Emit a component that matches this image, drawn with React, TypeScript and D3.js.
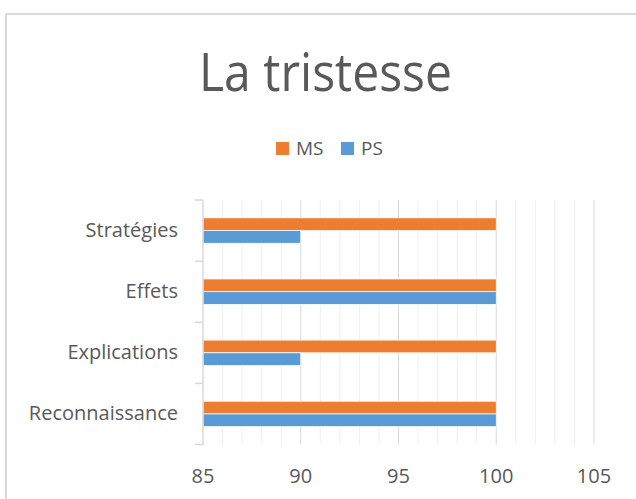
import React, { useEffect, useRef } from 'react';
import * as d3 from 'd3';

const categories = ['Reconnaissance', 'Explications', 'Effets', 'Stratégies'];
const seriesNames = ['MS', 'PS'];
const msValues = [100, 100, 100, 100];
const psValues = [100, 90, 100, 90];
const xTicks = [85, 90, 95, 100, 105];
const colors = ['#ED7D31', '#5B9BD5'];

const App = () => {
  const ref = useRef<SVGSVGElement>(null);

  useEffect(() => {
    const width = 636;
    const height = 499;
    const svg = d3.select(ref.current);
    svg.selectAll('*').remove();
    const font = '"Open Sans", "Noto Sans", sans-serif';
    const textColor = '#595959';

    // chart frame
    svg.append('rect')
      .attr('x', 6).attr('y', 14)
      .attr('width', 700).attr('height', 600)
      .attr('fill', '#fff')
      .attr('stroke', '#d9d9d9')
      .attr('stroke-width', 2);

    // title
    svg.append('text')
      .text('La tristesse')
      .attr('x', 199).attr('y', 91)
      .attr('font-family', font)
      .attr('font-size', 53)
      .attr('textLength', 253)
      .attr('lengthAdjust', 'spacingAndGlyphs')
      .attr('fill', textColor);

    // legend
    const legendX = [276, 341];
    const legend = svg.append('g');
    seriesNames.forEach((name, i) => {
      legend.append('rect')
        .attr('x', legendX[i]).attr('y', 142)
        .attr('width', 13).attr('height', 13)
        .attr('fill', colors[i]);
      legend.append('text')
        .text(name)
        .attr('x', legendX[i] + 20).attr('y', 155)
        .attr('font-family', font)
        .attr('font-size', 19)
        .attr('fill', textColor);
    });

    const left = 203, right = 594, top = 200, bottom = 444.5;
    const x = d3.scaleLinear().domain([85, 105]).range([left, right]);
    const y = d3.scaleBand<string>()
      .domain(categories.slice().reverse())
      .range([top, bottom])
      .paddingInner(0.584)
      .paddingOuter(0.292);
    const sub = d3.scaleBand<string>().domain(seriesNames).range([0, y.bandwidth()]);

    // gridlines
    const minor = d3.range(86, 105).filter(v => v % 5 !== 0);
    svg.append('g').selectAll('line').data(minor).enter().append('line')
      .attr('x1', d => x(d)).attr('x2', d => x(d))
      .attr('y1', top).attr('y2', bottom)
      .attr('stroke', '#f0f0f0').attr('stroke-width', 1);
    svg.append('g').selectAll('line').data(xTicks.slice(1)).enter().append('line')
      .attr('x1', d => x(d)).attr('x2', d => x(d))
      .attr('y1', top).attr('y2', bottom)
      .attr('stroke', '#d9d9d9').attr('stroke-width', 1);

    // bars
    const rows = categories.map((c, i) => ({ cat: c, values: [msValues[i], psValues[i]] }));
    const barG = svg.append('g');
    rows.forEach(r => {
      r.values.forEach((v, j) => {
        barG.append('rect')
          .attr('x', x(85))
          .attr('y', (y(r.cat) as number) + (sub(seriesNames[j]) as number))
          .attr('width', x(v) - x(85))
          .attr('height', sub.bandwidth())
          .attr('fill', colors[j])
          .attr('stroke', '#fff')
          .attr('stroke-width', 0.75);
      });
    });

    // y axis line and ticks
    const step = y.step();
    const tickYs = d3.range(0, categories.length + 1).map(i => top + i * step);
    svg.append('line')
      .attr('x1', left).attr('x2', left)
      .attr('y1', top).attr('y2', bottom)
      .attr('stroke', '#d9d9d9').attr('stroke-width', 1.5);
    svg.append('g').selectAll('line').data(tickYs).enter().append('line')
      .attr('x1', left - 8).attr('x2', left)
      .attr('y1', d => d).attr('y2', d => d)
      .attr('stroke', '#d9d9d9').attr('stroke-width', 1.5);

    // category labels
    svg.append('g').selectAll('text').data(categories).enter().append('text')
      .text(d => d)
      .attr('x', 178)
      .attr('y', d => (y(d) as number) + y.bandwidth() / 2 + 6)
      .attr('text-anchor', 'end')
      .attr('font-family', font)
      .attr('font-size', 20)
      .attr('fill', textColor);

    // x labels
    svg.append('g').selectAll('text').data(xTicks).enter().append('text')
      .text(d => d)
      .attr('x', d => x(d))
      .attr('y', 483)
      .attr('text-anchor', 'middle')
      .attr('font-family', font)
      .attr('font-size', 20)
      .attr('fill', textColor);

    svg.attr('width', width).attr('height', height);
  }, []);

  return (
    <svg ref={ref} width={636} height={499}
      style={{ position: 'absolute', left: 0, top: 0, background: '#fff' }} />
  );
};

export default App;
